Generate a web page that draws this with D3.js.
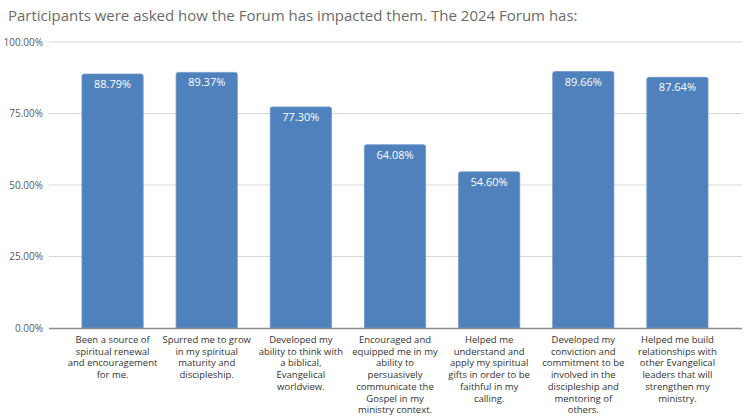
<!DOCTYPE html>
<html><head><meta charset="utf-8">
<script src="https://cdn.jsdelivr.net/npm/d3@7"></script>
<style>body{margin:0;background:#fff}svg{display:block}</style>
</head><body>
<script>
const categories = [
  ["Been a source of","spiritual renewal","and encouragement","for me."],
  ["Spurred me to grow","in my spiritual","maturity and","discipleship."],
  ["Developed my","ability to think with","a biblical,","Evangelical","worldview."],
  ["Encouraged and","equipped me in my","ability to","persuasively","communicate the","Gospel in my","ministry context."],
  ["Helped me","understand and","apply my spiritual","gifts in order to be","faithful in my","calling."],
  ["Developed my","conviction and","commitment to be","involved in the","discipleship and","mentoring of","others."],
  ["Helped me build","relationships with","other Evangelical","leaders that will","strengthen my","ministry."]
];
const values = [88.79, 89.37, 77.30, 64.08, 54.60, 89.66, 87.64];
const yTicks = [0, 25, 50, 75, 100];
const title = "Participants were asked how the Forum has impacted them. The 2024 Forum has:";

const W = 750, H = 416;
const svg = d3.select("body").append("svg").attr("width", W).attr("height", H);

svg.append("text").attr("x", 8).attr("y", 21).text(title)
  .attr("font-family", "Open Sans, Noto Sans, sans-serif").attr("font-size", 15).attr("fill", "#6b6b6b");

const y = d3.scaleLinear().domain([0, 100]).range([328, 42]);
const x = d3.scaleBand().domain(d3.range(values.length)).range([65.5, 724.5]).paddingInner(0.35).paddingOuter(0.175);

const grid = svg.append("g");
grid.selectAll("line").data(yTicks.filter(d => d > 0)).join("line")
  .attr("x1", 49).attr("x2", 742).attr("y1", d => y(d)).attr("y2", d => y(d))
  .attr("stroke", "#d9d9d9").attr("stroke-width", 1);

const yAxis = d3.axisLeft(y).tickValues(yTicks).tickFormat(d => d.toFixed(2) + "%").tickSize(0).tickPadding(6);
const ya = svg.append("g").attr("transform", "translate(49,0)").call(yAxis);
ya.select(".domain").remove();
ya.selectAll("text").attr("font-family", "Open Sans, Noto Sans, sans-serif").attr("font-size", 10).attr("fill", "#595959");

svg.selectAll("path.bar").data(values).join("path").attr("class", "bar")
  .attr("d", (d, i) => {
    const x0 = x(i), w = x.bandwidth(), y0 = y(d), y1 = y(0), r = 2;
    return `M${x0},${y1}V${y0 + r}Q${x0},${y0} ${x0 + r},${y0}H${x0 + w - r}Q${x0 + w},${y0} ${x0 + w},${y0 + r}V${y1}Z`;
  })
  .attr("fill", "#4f81bd").attr("stroke", "#6d96c8").attr("stroke-width", 0.8);

svg.selectAll("text.val").data(values).join("text").attr("class", "val")
  .attr("x", (d, i) => x(i) + x.bandwidth() / 2).attr("y", d => y(d) + 14)
  .attr("text-anchor", "middle").attr("font-family", "Open Sans, Noto Sans, sans-serif").attr("font-size", 11)
  .attr("fill", "#fff").text(d => d.toFixed(2) + "%");

svg.append("line").attr("x1", 49).attr("x2", 742).attr("y1", y(0) + 0.5).attr("y2", y(0) + 0.5)
  .attr("stroke", "#8c8c8c").attr("stroke-width", 1.5);

const cl = svg.append("g");
categories.forEach((lines, i) => {
  const t = cl.append("text").attr("text-anchor", "middle")
    .attr("font-family", "Open Sans, Noto Sans, sans-serif").attr("font-size", 9.5).attr("fill", "#333");
  lines.forEach((ln, j) => {
    t.append("tspan").attr("x", x(i) + x.bandwidth() / 2).attr("y", 343 + j * 11.7).text(ln);
  });
});
</script>
</body></html>
